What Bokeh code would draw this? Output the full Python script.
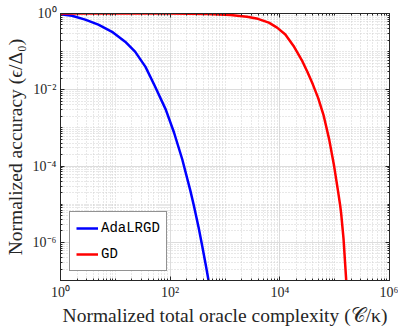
from bokeh.plotting import figure
from bokeh.models import FixedTicker, CustomJSTickFormatter, LogAxis, Legend, LegendItem, Range1d
from bokeh.embed import file_html
from bokeh.resources import INLINE

# ---- data ----
ada_x = [1, 1.62, 2.82, 4.90, 8.71, 15.1, 22.9, 35.5, 52.5, 83.2, 117.5, 166, 234,
         269, 331, 385, 447, 490, 537]
ada_y = [0.95, 0.871, 0.692, 0.513, 0.331, 0.182, 0.1, 0.0398, 0.0126, 0.00302,
         7.59e-4, 1.51e-4, 2.24e-5, 9.55e-6, 2.40e-6, 7.94e-7, 2.51e-7, 1.20e-7, 5.6e-8]

gd_x = [1, 100, 500, 1260, 2510, 3980, 6310, 8910, 12600, 17800, 25100, 31600,
        39800, 50100, 63100, 79400, 97700, 115000, 126000, 132000, 145000, 162000, 174000]
gd_y = [1, 0.9931, 0.966, 0.912, 0.822, 0.724, 0.575, 0.427, 0.282, 0.141, 0.0603,
        0.0302, 0.0141, 0.00603, 0.00209, 5.01e-4, 1.0e-4, 2.24e-5, 9.33e-6, 5.37e-6,
        1.26e-6, 1.05e-7, 2.24e-8]

x_ticks = [1, 1e2, 1e4, 1e6]
y_ticks = [1e-6, 1e-4, 1e-2, 1]
series_names = ["AdaLRGD", "GD"]
series_colors = ["#0000ff", "#ff0000"]

x_label = "Normalized total oracle complexity (\U0001D49E/\u03BA)"
y_label = "Normalized accuracy (\u03F5/\u0394\u2080)"

SERIF = "Liberation Serif"
TXT = "#262626"

def minor_list(lo, hi):
    out = []
    for e in range(lo, hi):
        for m in range(1, 10):
            out.append(m * 10.0 ** e)
    return out

p = figure(width=398, height=328, x_axis_type="log", y_axis_type="log",
           output_backend="svg", toolbar_location=None,
           x_range=Range1d(1, 1e6), y_range=Range1d(1e-7, 1))
p.min_border_left = 60
p.min_border_right = 9
p.min_border_top = 13
p.min_border_bottom = 47
p.outline_line_color = "#262626"
p.outline_line_width = 1
p.background_fill_color = "white"
p.border_fill_color = "white"

fmt = CustomJSTickFormatter(code="""
const e = Math.round(Math.log10(tick));
const sup = {'0':'\u2070','1':'\u00b9','2':'\u00b2','3':'\u00b3','4':'\u2074','5':'\u2075','6':'\u2076','7':'\u2077','8':'\u2078','9':'\u2079','-':'\u207b'};
return '10' + String(e).split('').map(c => sup[c]).join('');
""")
blank_fmt = CustomJSTickFormatter(code="return '';")

xt = FixedTicker(ticks=x_ticks, minor_ticks=minor_list(0, 6))
yt = FixedTicker(ticks=y_ticks, minor_ticks=minor_list(-7, 0))

def style_axis(ax, t, labels=True):
    ax.ticker = t
    ax.formatter = fmt if labels else blank_fmt
    ax.major_tick_in = 4
    ax.major_tick_out = 0
    ax.minor_tick_in = 2
    ax.minor_tick_out = 0
    ax.axis_line_color = "#262626"
    ax.major_tick_line_color = "#262626"
    ax.minor_tick_line_color = "#262626"
    ax.major_label_text_font = SERIF
    ax.major_label_text_font_size = "14px"
    ax.major_label_text_color = TXT
    ax.axis_label_text_font = SERIF
    ax.axis_label_text_font_size = "19.5px"
    ax.axis_label_text_font_style = "normal"
    ax.axis_label_text_color = TXT

bottom_ax = p.below[0]
left_ax = p.left[0]
style_axis(bottom_ax, xt)
style_axis(left_ax, yt)

bottom_ax.axis_label = x_label
left_ax.axis_label = y_label
bottom_ax.major_label_standoff = 4
left_ax.major_label_standoff = 4
bottom_ax.axis_label_standoff = 2
left_ax.axis_label_standoff = 4

top_ax = LogAxis()
style_axis(top_ax, xt, labels=False)
top_ax.major_label_standoff = 0
right_ax = LogAxis()
style_axis(right_ax, yt, labels=False)
right_ax.major_label_standoff = 0
p.add_layout(top_ax, "above")
p.add_layout(right_ax, "right")

for g, t in ((p.xgrid[0], xt), (p.ygrid[0], yt)):
    g.ticker = t
    g.grid_line_color = "#dcdcdc"
    g.grid_line_width = 1
    g.minor_grid_line_color = "#d0d0d0"
    g.minor_grid_line_dash = "1 2"
    g.minor_grid_line_width = 1

r1 = p.line(ada_x, ada_y, line_color=series_colors[0], line_width=2.5, line_join="round")
r2 = p.line(gd_x, gd_y, line_color=series_colors[1], line_width=2.5, line_join="round")

legend = Legend(items=[LegendItem(label=series_names[0], renderers=[r1]),
                       LegendItem(label=series_names[1], renderers=[r2])],
                location="bottom_left")
legend.label_text_font = "Liberation Mono"
legend.label_text_font_size = "14px"
legend.label_text_color = "black"
legend.border_line_color = "#262626"
legend.border_line_width = 1
legend.background_fill_alpha = 1
legend.glyph_width = 22
legend.label_standoff = 3
legend.spacing = 6
legend.padding = 6
legend.margin = 9
p.add_layout(legend, "center")

open("out.html", "w").write(file_html(p, INLINE))
